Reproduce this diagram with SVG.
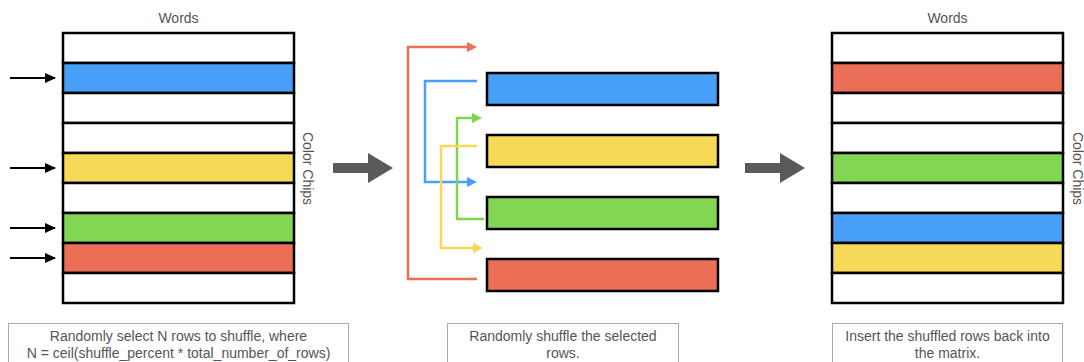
<svg xmlns="http://www.w3.org/2000/svg" width="1084" height="362" viewBox="0 0 1084 362">
<defs>
<style>
.cap{font-family:"Liberation Sans",Arial,sans-serif;font-size:14px;fill:#555;text-anchor:middle;}
.row{stroke:#000;stroke-width:2.5;}
.w{fill:#fff;}
.b{fill:#479ff7;}
.y{fill:#f7d958;}
.g{fill:#83d654;}
.r{fill:#eb6e57;}
.box{fill:#fff;stroke:#aaa;stroke-width:1;}
.con{fill:none;stroke-width:2.5;}
.big{fill:#5a5a5a;}
</style>
<marker id="ak" markerWidth="11" markerHeight="10" refX="10" refY="5" orient="auto" markerUnits="userSpaceOnUse"><path d="M0,0 L11,5 L0,10 z" fill="#000"/></marker>
<marker id="ar" markerWidth="10" markerHeight="10" refX="0" refY="5" orient="auto" markerUnits="userSpaceOnUse"><path d="M0,0 L10,5 L0,10 z" fill="#ee6e56"/></marker>
<marker id="ab" markerWidth="10" markerHeight="10" refX="0" refY="5" orient="auto" markerUnits="userSpaceOnUse"><path d="M0,0 L10,5 L0,10 z" fill="#479ff7"/></marker>
<marker id="ag" markerWidth="10" markerHeight="10" refX="0" refY="5" orient="auto" markerUnits="userSpaceOnUse"><path d="M0,0 L10,5 L0,10 z" fill="#7fd64e"/></marker>
<marker id="ay" markerWidth="10" markerHeight="10" refX="0" refY="5" orient="auto" markerUnits="userSpaceOnUse"><path d="M0,0 L10,5 L0,10 z" fill="#f8d858"/></marker>
</defs>
<rect width="1084" height="362" fill="#fff"/>

<g id="matrix-left">
<text class="cap" x="178.5" y="23">Words</text>
<rect class="row w" x="63" y="33" width="231" height="30"/>
<rect class="row b" x="63" y="63" width="231" height="30"/>
<rect class="row w" x="63" y="93" width="231" height="30"/>
<rect class="row w" x="63" y="123" width="231" height="30"/>
<rect class="row y" x="63" y="153" width="231" height="30"/>
<rect class="row w" x="63" y="183" width="231" height="30"/>
<rect class="row g" x="63" y="213" width="231" height="30"/>
<rect class="row r" x="63" y="243" width="231" height="30"/>
<rect class="row w" x="63" y="273" width="231" height="30"/>
<text class="cap" transform="translate(303,168.5) rotate(90)">Color Chips</text>
</g>

<g id="caption-left">
<rect class="box" x="8.5" y="323.5" width="340" height="45"/>
<text class="cap" x="178.5" y="341">Randomly select N rows to shuffle, where</text>
<text class="cap" x="178.5" y="358">N = ceil(shuffle_percent * total_number_of_rows)</text>
</g>

<g id="arrow-1">
<path class="big" d="M333,163 H368 V153 L393,168 L368,183 V173 H333 z"/>
</g>

<g id="bars-middle">
<rect class="row b" x="487" y="73" width="231" height="32"/>
<rect class="row y" x="487" y="135" width="231" height="32"/>
<rect class="row g" x="487" y="197" width="231" height="32"/>
<rect class="row r" x="487" y="259" width="231" height="32"/>
</g>

<g id="caption-middle">
<rect class="box" x="447.5" y="323.5" width="231" height="45"/>
<text class="cap" x="563" y="341">Randomly shuffle the selected</text>
<text class="cap" x="563" y="358">rows.</text>
</g>

<g id="arrow-2">
<path class="big" d="M745,163 H780 V153 L805,168 L780,183 V173 H745 z"/>
</g>

<g id="matrix-right">
<text class="cap" x="947.5" y="23">Words</text>
<rect class="row w" x="832" y="33" width="231" height="30"/>
<rect class="row r" x="832" y="63" width="231" height="30"/>
<rect class="row w" x="832" y="93" width="231" height="30"/>
<rect class="row w" x="832" y="123" width="231" height="30"/>
<rect class="row g" x="832" y="153" width="231" height="30"/>
<rect class="row w" x="832" y="183" width="231" height="30"/>
<rect class="row b" x="832" y="213" width="231" height="30"/>
<rect class="row y" x="832" y="243" width="231" height="30"/>
<rect class="row w" x="832" y="273" width="231" height="30"/>
<text class="cap" transform="translate(1073,168.5) rotate(90)">Color Chips</text>
</g>

<g id="caption-right">
<rect class="box" x="832.5" y="323.5" width="230" height="45"/>
<text class="cap" x="947.5" y="341">Insert the shuffled rows back into</text>
<text class="cap" x="947.5" y="358">the matrix.</text>
</g>

<g id="connectors">
<line x1="10" y1="78" x2="55" y2="78" stroke="#000" stroke-width="2" marker-end="url(#ak)"/>
<line x1="10" y1="168" x2="55" y2="168" stroke="#000" stroke-width="2" marker-end="url(#ak)"/>
<line x1="10" y1="228" x2="55" y2="228" stroke="#000" stroke-width="2" marker-end="url(#ak)"/>
<line x1="10" y1="258" x2="55" y2="258" stroke="#000" stroke-width="2" marker-end="url(#ak)"/>
<path class="con" stroke="#ee6e56" d="M477,279 H408 V47 H467" marker-end="url(#ar)"/>
<path class="con" stroke="#479ff7" d="M477,81 H425 V182 H467" marker-end="url(#ab)"/>
<path class="con" stroke="#7fd64e" d="M484,219 H457 V118 H472" marker-end="url(#ag)"/>
<path class="con" stroke="#f8d858" d="M477,146 H441 V248 H473" marker-end="url(#ay)"/>
</g>
</svg>
